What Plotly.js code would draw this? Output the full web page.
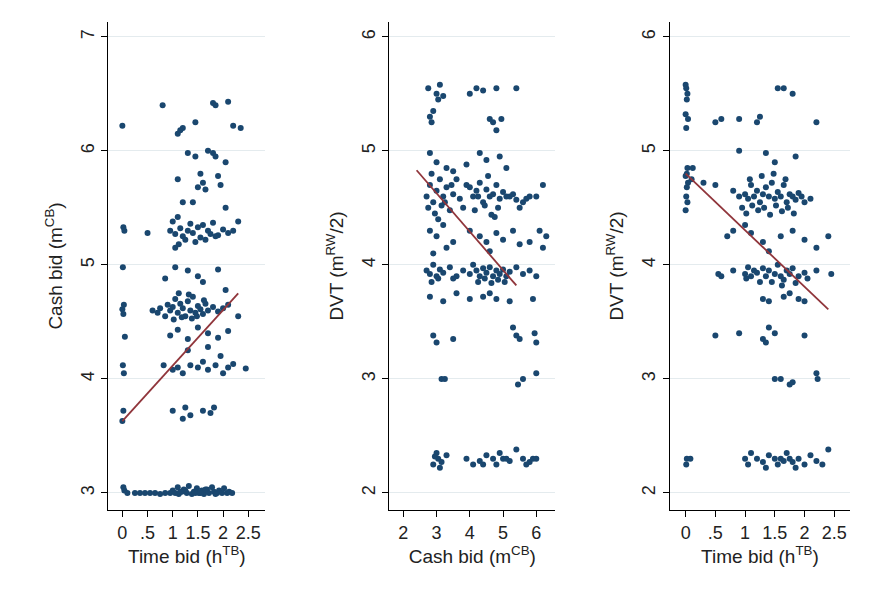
<!DOCTYPE html>
<html>
<head>
<meta charset="utf-8">
<script src="https://cdn.plot.ly/plotly-3.0.1.min.js"></script>
<style>body{margin:0;background:#fff}#chart{width:873px;height:611px}</style>
</head>
<body>
<div id="chart"></div>
<script>
// panel 1: time bid vs cash bid
var timeA = [0,0.02,0.04,0.01,0.03,0,0.02,0.05,0.01,0.03,0.02,0,0.04,0.02,
  0.1,0.25,0.35,0.45,0.55,0.65,0.75,0.85,0.95,1.0,1.05,1.1,1.12,1.18,1.22,1.28,1.32,1.38,1.42,1.48,1.52,1.58,1.62,1.68,1.72,1.78,1.82,1.88,1.92,1.98,2.02,2.08,2.12,2.18,1.25,1.45,1.65,1.85,1.15,1.55,
  0.6,0.7,0.75,0.85,0.9,0.95,1.0,1.05,1.1,1.15,1.2,1.25,1.3,1.35,1.4,1.45,1.5,1.55,1.6,1.65,1.7,1.8,1.9,2.0,2.1,1.02,1.18,1.32,1.48,1.62,1.12,1.38,
  0.95,1.1,1.3,1.5,1.7,1.9,2.1,2.3,
  0.95,1.0,1.05,1.1,1.15,1.2,1.3,1.35,1.4,1.5,1.55,1.6,1.7,1.75,1.8,1.9,2.0,2.1,2.2,2.3,1.25,1.45,1.65,1.85,1.05,1.12,
  0.85,1.05,1.3,1.5,1.6,1.9,2.05,0.5,
  0.82,1.0,1.1,1.2,1.35,1.5,1.6,1.7,1.85,2.0,2.1,2.2,2.45,
  1.3,1.7,1.95,
  1.1,1.3,1.45,1.55,1.6,1.7,1.8,1.9,1.95,2.05,1.5,1.65,1.85,
  1.4,1.2,2.05,
  0.8,1.1,1.2,1.45,1.8,1.85,2.1,2.2,2.35,1.15,
  1.0,1.2,1.25,1.35,1.6,1.75,1.82];
var cashA = [6.22,5.33,5.30,4.98,4.65,4.61,4.57,4.37,4.12,4.05,3.72,3.63,3.02,3.05,
  3.0,3.0,3.0,3.0,3.0,3.0,2.99,3.0,3.0,3.02,3.0,3.05,2.99,3.01,3.03,3.0,3.06,2.99,3.01,3.04,3.0,3.02,2.99,3.03,3.0,3.05,3.01,3.0,3.02,3.0,3.04,3.0,3.01,3.0,3.02,3.0,3.03,2.99,3.01,3.0,
  4.6,4.58,4.62,4.55,4.65,4.6,4.63,4.7,4.58,4.66,4.62,4.55,4.68,4.6,4.72,4.58,4.64,4.61,4.57,4.66,4.6,4.63,4.59,4.62,4.65,4.52,4.54,4.74,4.55,4.69,4.75,4.53,
  4.38,4.43,4.35,4.45,4.4,4.36,4.42,4.55,
  5.3,5.38,5.27,5.42,5.32,5.25,5.3,5.36,5.28,5.33,5.24,5.35,5.3,5.27,5.37,5.26,5.31,5.28,5.3,5.38,5.22,5.2,5.22,5.25,5.15,5.18,
  4.88,4.98,4.95,4.9,4.85,4.96,4.78,5.28,
  4.12,4.08,4.1,4.05,4.12,4.1,4.15,4.08,4.12,4.05,4.1,4.13,4.09,
  4.25,4.28,4.2,
  5.75,5.98,5.95,5.8,5.72,6.0,5.98,5.78,5.7,5.9,5.68,5.66,5.95,
  5.55,5.55,5.5,
  6.4,6.15,6.2,6.25,6.42,6.4,6.43,6.22,6.2,6.18,
  3.72,3.65,3.75,3.68,3.72,3.7,3.75];
var fitAx = [0, 2.3], fitAy = [3.63, 4.75];

// panel 2: cash bid vs DVT
var cashB = [2.75,2.8,2.85,3.0,3.1,3.2,4.0,4.2,4.4,4.6,4.8,5.4,2.9,3.05,4.7,4.95,4.8,
  2.8,3.0,3.3,3.5,4.3,4.5,4.9,5.1,3.9,
  2.7,2.8,2.9,3.0,3.1,3.2,3.3,3.5,3.7,3.9,4.1,4.2,4.3,4.4,4.5,4.6,4.7,4.8,4.9,5.0,5.2,5.4,5.6,5.8,6.0,6.2,2.75,2.95,3.15,3.4,3.6,3.8,4.0,4.25,4.45,4.65,4.85,5.1,5.3,5.7,2.85,3.05,3.25,4.15,4.55,4.75,3.45,5.5,
  2.8,3.0,3.2,3.5,4.0,4.3,4.5,4.8,5.0,5.3,5.8,6.1,6.3,6.2,2.9,3.3,4.6,5.5,
  2.7,2.8,2.9,3.0,3.1,3.2,3.4,3.6,3.8,4.0,4.1,4.2,4.3,4.4,4.5,4.6,4.7,4.8,4.9,5.0,5.1,5.2,5.4,5.6,5.8,6.0,2.85,3.05,4.25,4.45,4.65,4.85,5.05,3.5,
  2.8,3.2,3.6,4.0,4.4,4.8,5.2,5.9,4.6,
  2.9,3.0,3.5,5.3,5.4,5.5,5.95,6.0,
  3.15,3.25,5.45,5.6,6.0,
  2.9,3.0,3.05,3.15,3.3,3.9,4.1,4.3,4.5,4.7,4.8,5.0,5.2,5.4,5.6,5.8,5.9,6.0,2.95,3.1,4.4,4.9,5.1,5.7];
var dvtB = [5.55,5.3,5.25,5.5,5.58,5.48,5.5,5.55,5.53,5.28,5.55,5.55,5.35,5.45,5.25,5.28,5.18,
  4.98,4.9,4.85,4.82,4.98,4.92,4.95,4.85,4.88,
  4.6,4.7,4.55,4.65,4.75,4.6,4.68,4.62,4.58,4.7,4.6,4.65,4.72,4.55,4.66,4.6,4.62,4.7,4.58,4.64,4.6,4.57,4.55,4.6,4.6,4.7,4.5,4.45,4.52,4.48,4.75,4.5,4.68,4.6,4.52,4.44,4.5,4.6,4.62,4.58,4.8,4.4,4.55,4.48,4.78,4.42,4.7,4.5,
  4.3,4.25,4.35,4.2,4.3,4.25,4.2,4.28,4.22,4.3,4.2,4.3,4.25,4.15,4.1,4.15,4.12,4.18,
  3.95,3.92,4.0,3.9,3.96,3.93,3.98,3.9,3.95,3.92,4.0,3.95,3.9,3.97,3.93,3.98,3.9,3.95,3.92,3.96,3.9,3.94,3.98,3.92,3.95,3.9,3.85,3.88,3.85,3.88,3.84,3.87,3.85,3.88,
  3.72,3.68,3.75,3.7,3.72,3.7,3.68,3.7,3.75,
  3.38,3.32,3.35,3.45,3.38,3.35,3.4,3.32,
  3.0,3.0,2.95,3.0,3.05,
  2.25,2.35,2.3,2.27,2.33,2.3,2.25,2.28,2.33,2.3,2.25,2.3,2.28,2.38,2.3,2.27,2.3,2.3,2.32,2.22,2.25,2.35,2.3,2.25];
var fitBx = [2.4, 5.4], fitBy = [4.83, 3.82];

// panel 3: time bid vs DVT
var timeC = [0,0.01,0.03,0.02,0,0.04,0.01,0.03,0.02,0,0.04,0.02,0.01,0.03,0,0.02,0.01,0.1,0.12,
  0.5,0.6,0.9,1.2,1.25,1.55,1.65,1.8,2.2,
  0.9,1.35,1.5,1.85,
  0.3,0.5,0.8,0.9,1.0,1.05,1.1,1.15,1.2,1.25,1.3,1.35,1.4,1.45,1.5,1.55,1.6,1.65,1.7,1.75,1.8,1.85,1.9,1.95,2.0,2.1,0.95,1.02,1.12,1.22,1.32,1.42,1.52,1.62,1.72,1.82,1.08,1.28,1.48,1.68,0.7,
  0.8,1.0,1.1,1.3,1.6,1.8,2.0,2.2,2.4,1.4,
  0.55,0.6,0.8,1.0,1.05,1.1,1.15,1.2,1.3,1.35,1.4,1.5,1.55,1.6,1.7,1.75,1.8,1.9,2.0,2.05,2.2,2.45,1.25,1.45,1.65,1.85,1.02,1.62,
  1.3,1.4,1.65,1.75,1.9,2.0,
  0.5,0.9,1.3,1.35,1.5,2.0,1.4,
  1.5,1.6,1.75,1.8,2.2,2.22,
  0.08,1.0,1.05,1.1,1.2,1.3,1.4,1.5,1.55,1.6,1.65,1.7,1.75,1.8,1.9,2.0,2.1,2.2,2.3,2.4,1.35,1.85];
var dvtC = [5.58,5.55,5.5,5.45,5.32,5.28,5.2,4.85,4.8,4.78,4.72,4.68,4.6,4.55,4.48,2.3,2.25,4.75,4.85,
  5.25,5.28,5.28,5.25,5.3,5.55,5.55,5.5,5.25,
  5.0,4.98,4.9,4.95,
  4.72,4.7,4.65,4.6,4.62,4.58,4.7,4.6,4.65,4.55,4.62,4.68,4.6,4.72,4.58,4.64,4.6,4.7,4.55,4.62,4.6,4.57,4.63,4.6,4.55,4.58,4.5,4.45,4.52,4.48,4.5,4.44,4.52,4.47,4.5,4.45,4.75,4.78,4.8,4.75,4.25,
  4.3,4.35,4.28,4.2,4.25,4.3,4.22,4.15,4.25,4.12,
  3.92,3.9,3.95,3.92,3.98,3.9,3.95,3.93,3.97,3.9,3.95,3.92,4.0,3.9,3.95,3.92,3.97,3.9,3.93,3.88,3.95,3.92,3.85,3.85,3.87,3.84,3.88,3.82,
  3.7,3.68,3.72,3.75,3.7,3.68,
  3.38,3.4,3.35,3.32,3.4,3.38,3.45,
  3.0,3.0,2.95,2.97,3.05,3.0,
  2.3,2.3,2.25,2.35,2.3,2.27,2.33,2.3,2.25,2.3,2.28,2.35,2.3,2.27,2.3,2.25,2.33,2.28,2.25,2.38,2.22,2.22];
var fitCx = [0, 2.4], fitCy = [4.8, 3.61];

var timeTicks = [0, 0.5, 1, 1.5, 2, 2.5];
var timeLabels = ['0', '.5', '1', '1.5', '2', '2.5'];

var dot = {color: '#1a476f', size: 6};
var fitLine = {color: '#90353b', width: 1.8};
function pts(x, y, xa, ya) {
  return {x: x, y: y, xaxis: xa, yaxis: ya, mode: 'markers', type: 'scatter', marker: dot, hoverinfo: 'skip'};
}
function fit(x, y, xa, ya) {
  return {x: x, y: y, xaxis: xa, yaxis: ya, mode: 'lines', type: 'scatter', line: fitLine};
}
var data = [
  pts(timeA, cashA, 'x', 'y'), fit(fitAx, fitAy, 'x', 'y'),
  pts(cashB, dvtB, 'x2', 'y2'), fit(fitBx, fitBy, 'x2', 'y2'),
  pts(timeC, dvtC, 'x3', 'y3'), fit(fitCx, fitCy, 'x3', 'y3')
];

var font = {family: 'Liberation Sans, Arial, sans-serif', size: 18, color: '#222'};
function xax(dom, range, title, extra) {
  var a = {domain: dom, range: range, showgrid: false, zeroline: false, showline: true, linecolor: '#000',
    ticks: 'outside', ticklen: 6, tickcolor: '#000', tickfont: font,
    title: {text: title, font: {family: font.family, size: 19, color: '#222'}, standoff: 8}};
  return Object.assign(a, extra || {});
}
function yax(anchor, range, dtick, title) {
  return {anchor: anchor, domain: [0, 1], range: range, dtick: dtick, showgrid: true, gridcolor: '#e4ebee',
    zeroline: false, showline: true, linecolor: '#000', ticks: 'outside', ticklen: 6, tickcolor: '#000',
    tickfont: font, tickangle: -90,
    title: {text: title, font: {family: font.family, size: 19, color: '#222'}, standoff: 10}};
}
var layout = {
  width: 873, height: 611, showlegend: false,
  margin: {l: 0, r: 0, t: 22, b: 101},
  paper_bgcolor: '#fff', plot_bgcolor: '#fff',
  xaxis: xax([0.124, 0.304], [-0.28, 2.84], 'Time bid (h<sup>TB</sup>)', {anchor: 'y', tickvals: timeTicks, ticktext: timeLabels}),
  yaxis: yax('x', [2.85, 7.13], 1, 'Cash bid (m<sup>CB</sup>)'),
  xaxis2: xax([0.446, 0.636], [1.58, 6.57], 'Cash bid (m<sup>CB</sup>)', {anchor: 'y2', dtick: 1}),
  yaxis2: yax('x2', [1.85, 6.13], 1, 'DVT (m<sup>RW</sup>/2)'),
  xaxis3: xax([0.767, 0.974], [-0.27, 2.77], 'Time bid (h<sup>TB</sup>)', {anchor: 'y3', tickvals: timeTicks, ticktext: timeLabels}),
  yaxis3: yax('x3', [1.85, 6.13], 1, 'DVT (m<sup>RW</sup>/2)')
};
Plotly.newPlot('chart', data, layout, {displayModeBar: false, staticPlot: true});
</script>
</body>
</html>
